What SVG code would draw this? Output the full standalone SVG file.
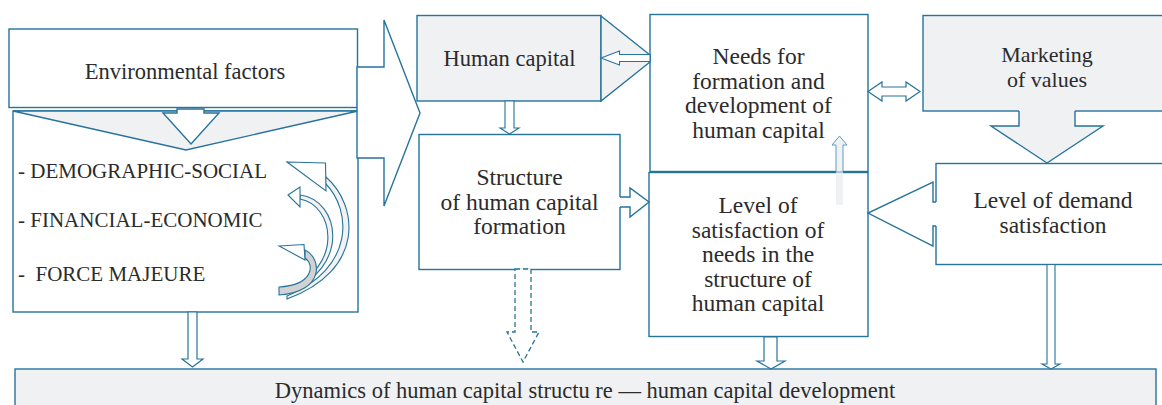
<svg xmlns="http://www.w3.org/2000/svg" width="1162" height="405" viewBox="0 0 1162 405">
<style>
.b{fill:#fff;stroke:#26739b;stroke-width:1.4}
.g{fill:#f0f1f3;stroke:#26739b;stroke-width:1.4}
.ln{fill:none;stroke:#26739b;stroke-width:1.4}
.wf{fill:#fff;stroke:none}
.gf{fill:#f0f1f3;stroke:none}
.cv{fill:#f2f2f2;stroke:#26739b;stroke-width:1.1}
.cvh{fill:#fff;stroke:#26739b;stroke-width:1.1}
.dash{fill:#fff;stroke:#26739b;stroke-width:1.3;stroke-dasharray:5 3}
text{font-family:"Liberation Serif","Times New Roman",serif;fill:#2b2b2b;font-size:23.5px}
.c{text-anchor:middle}
.caps{font-size:21px}
</style>
<rect width="1162" height="405" fill="#fff"/>

<g id="env-factors">
<rect class="b" x="9" y="29" width="348.5" height="78.5"/>
<text class="c" x="185" y="79" style="font-size:22.5px">Environmental factors</text>
</g>

<g id="factor-list">
<rect class="b" x="13" y="111" width="345" height="201"/>
<polygon class="g" points="13,111 358,111 186,150"/>
<polygon class="b" points="177,109 204,109 204,113 219,113 191,144 163,113 177,113"/>
<text class="caps" x="18" y="178">- DEMOGRAPHIC-SOCIAL</text>
<text class="caps" x="18" y="227">- FINANCIAL-ECONOMIC</text>
<text class="caps" x="18" y="281" xml:space="preserve">-  FORCE MAJEURE</text>
<path class="cv" d="M326,177 C358,205 366,270 287,299 L287,296 C355,268 352,210 325,183 Z"/>
<polygon class="cvh" points="287,162 325.5,163 326,191"/>
<path class="cv" d="M300,195 C340,200 352,268 286,293 L286,290 C345,267 334,205 300,199 Z"/>
<polygon class="cvh" points="288,195 300,187 300,207"/>
<path class="cv" style="fill:#d2d2d2" d="M305,250 C322,258 325,292 279,295 L279,287 C313,285 315,265 305,258 Z"/>
<polygon class="cvh" points="279,246 304,244.5 305,260"/>
</g>

<g id="human-capital">
<rect class="g" x="417" y="15.5" width="184" height="85.5"/>
<text class="c" x="509.5" y="66" style="font-size:22.5px">Human capital</text>
</g>

<g id="needs">
<rect class="b" x="650" y="14.5" width="218" height="157"/>
<text class="c" x="758.5" y="64">Needs for</text>
<text class="c" x="758.5" y="88.5">formation and</text>
<text class="c" x="758.5" y="113">development of</text>
<text class="c" x="758.5" y="137.5">human capital</text>
</g>

<g id="marketing">
<rect class="g" x="923" y="15.5" width="242" height="95.5"/>
<text class="c" x="1047" y="62" style="font-size:22px">Marketing</text>
<text class="c" x="1047" y="87" style="font-size:22px">of values</text>
</g>

<g id="structure">
<rect class="b" x="419" y="134.5" width="201" height="135"/>
<text class="c" x="519.5" y="185">Structure</text>
<text class="c" x="519.5" y="209.5">of human capital</text>
<text class="c" x="519.5" y="234">formation</text>
</g>

<g id="level-satisfaction">
<rect class="b" x="649" y="172.5" width="219" height="164"/>
<text class="c" x="758" y="213">Level of</text>
<text class="c" x="758" y="237.5">satisfaction of</text>
<text class="c" x="758" y="262">needs in the</text>
<text class="c" x="758" y="286.5">structure of</text>
<text class="c" x="758" y="311">human capital</text>
</g>

<g id="level-demand">
<rect class="b" x="936" y="163.5" width="229" height="101"/>
<text class="c" x="1053" y="208">Level of demand</text>
<text class="c" x="1053" y="233">satisfaction</text>
</g>

<g id="dynamics">
<rect class="g" x="15" y="369" width="1141" height="50"/>
<text class="c" x="585" y="398" style="font-size:22.5px">Dynamics of human capital structu re — human capital development</text>
</g>

<g id="connectors">
<polygon class="b" points="357,67 384,67 384,20 420,113 384,206 384,158 357,158"/>
<polygon class="g" points="601,16 650,55 650,62 601,101"/>
<polygon class="b" style="stroke-width:1.1" points="601,58 619.5,51 619.5,54.5 650,54.5 650,61.5 619.5,61.5 619.5,65"/>
<polygon class="b" style="stroke-width:1.1" points="505,101 514,101 514,128 519,128 509.5,134 500,128 505,128"/>
<polygon class="wf" points="618,197 630,197 630,188 649,202 630,217 630,207 618,207"/>
<polyline class="ln" points="620,197 630,197 630,188 649,202 630,217 630,207 620,207"/>
<polygon class="b" style="stroke-width:1.2" points="868,91.5 882,82 882,87 906,87 906,82 920,91.5 906,101 906,96 882,96 882,101"/>
<polygon class="gf" points="1019,109.5 1075,109.5 1075,126 1103,126 1047,163 991,126 1019,126"/>
<polyline class="ln" points="1019,111 1019,126 991,126 1047,163 1103,126 1075,126 1075,111"/>
<polygon class="wf" points="938,202 933,202 933,182 868,213 933,246 933,226 938,226"/>
<polyline class="ln" points="936,202 933,202 933,182 868,213 933,246 933,226 936,226"/>
<rect class="gf" x="836" y="145" width="7" height="60"/>
<polygon fill="#f0f1f3" stroke="#5f9dc0" stroke-width="1" points="836,172 836,145 832,145 839.5,136 847,145 843,145 843,172"/>
<polygon class="b" style="stroke-width:1.2" points="188,312 197,312 197,359 203,359 192.5,367 182,359 188,359"/>
<polygon class="dash" points="515,269 531,269 531,332 539,332 523,362 507,332 515,332"/>
<polygon class="b" style="stroke-width:1.2" points="764,337 777,337 777,361 785,361 771,369 757,361 764,361"/>
<polygon class="b" style="stroke-width:1.1" points="1047,264.5 1055,264.5 1055,364 1060,364 1051,369 1042,364 1047,364"/>
</g>
</svg>
